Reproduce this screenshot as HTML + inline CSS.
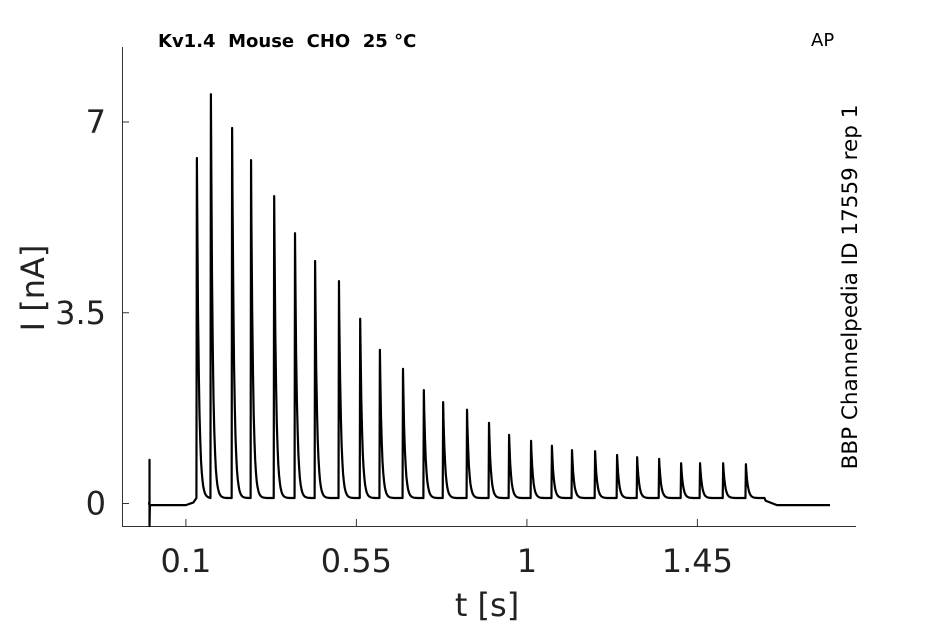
<!DOCTYPE html>
<html><head><meta charset="utf-8"><style>
body{margin:0;background:#fff;}
svg{display:block;font-family:"DejaVu Sans","Liberation Sans",sans-serif;}
text{white-space:pre;}
</style></head><body>
<svg width="945" height="624" viewBox="0 0 945 624">
<g id="axes">
<line x1="122.5" y1="47" x2="122.5" y2="526" stroke="#333" stroke-width="1"/>
<line x1="122" y1="526.5" x2="856" y2="526.5" stroke="#333" stroke-width="1"/>
</g>
<g id="ticks"></g>
<path id="trace" fill="none" stroke="#000" stroke-width="2.2" stroke-linejoin="round"/>
<text x="158" y="47" font-size="18" font-weight="bold" xml:space="preserve">Kv1.4  Mouse  CHO  25 °C</text>
<text x="811" y="46" font-size="18">AP</text>
<text transform="translate(857,287) rotate(-90)" text-anchor="middle" font-size="21.5">BBP Channelpedia ID 17559 rep 1</text>
<text transform="translate(44,288) rotate(-90)" text-anchor="middle" font-size="32" fill="#222">I [nA]</text>
<text x="487" y="616" text-anchor="middle" font-size="32" fill="#222">t [s]</text>
</svg>
<script>
const xTicks=[0.1,0.55,1,1.45];
const xTickLabels=["0.1","0.55","1","1.45"];
const yTicks=[0,3.5,7];
const yTickLabels=["0","3.5","7"];
const spikeTimes=[0.129,0.166,0.222,0.272,0.333,0.388,0.441,0.504,0.560,0.612,0.673,0.728,0.779,0.842,0.900,0.953,1.011,1.066,1.119,1.180,1.238,1.291,1.349,1.407,1.457,1.518,1.578];
const spikePeaks=[6.34,7.51,6.89,6.30,5.64,4.96,4.45,4.08,3.39,2.82,2.47,2.08,1.86,1.72,1.48,1.26,1.15,1.06,0.98,0.96,0.89,0.85,0.82,0.74,0.74,0.74,0.72];
const xs=t=>148+t*378.9;
const ys=v=>503.5-v*54.5;
const NS="http://www.w3.org/2000/svg";
const tg=document.getElementById('ticks');
xTicks.forEach((t,i)=>{
 const l=document.createElementNS(NS,'line');
 
 
 l.setAttribute('x1',xs(t));l.setAttribute('x2',xs(t));l.setAttribute('y1',526);l.setAttribute('y2',519);l.setAttribute('stroke','#333');
 tg.appendChild(l);
 const tx=document.createElementNS(NS,'text');
 
 
 tx.setAttribute('x',xs(t));tx.setAttribute('y',572);tx.setAttribute('text-anchor','middle');tx.setAttribute('font-size','32');tx.setAttribute('fill','#222');
 tx.textContent=xTickLabels[i];tg.appendChild(tx);
});
yTicks.forEach((v,i)=>{
 const l=document.createElementNS(NS,'line');
 
 
 l.setAttribute('x1',122);l.setAttribute('x2',129);l.setAttribute('y1',ys(v));l.setAttribute('y2',ys(v));l.setAttribute('stroke','#333');
 tg.appendChild(l);
 const tx=document.createElementNS(NS,'text');
 
 
 tx.setAttribute('x',106);tx.setAttribute('y',ys(v)+11);tx.setAttribute('text-anchor','end');tx.setAttribute('font-size','32');tx.setAttribute('fill','#222');
 tx.textContent=yTickLabels[i];tg.appendChild(tx);
});
let d=`M${xs(0)} ${ys(0)}`;
d+=` L${xs(0.004)} ${ys(0)} L${xs(0.004)} ${ys(0.8)} L${xs(0.004)} 526 L${xs(0.005)} ${ys(-0.03)}`;
d+=` L${xs(0.1)} ${ys(-0.03)} L${xs(0.12)} ${ys(0.02)}`;
const base=0.1;
spikeTimes.forEach((t,i)=>{
 const p=spikePeaks[i];
 const end=i<spikeTimes.length-1?spikeTimes[i+1]-0.0015:t+0.05;
 d+=` L${xs(t-0.0012)} ${ys(base)} L${xs(t)} ${ys(p)}`;
 for(let tt=t+0.001;tt<end;tt+=0.002){
  const v=base+(p-base)*Math.exp(-(tt-t)/0.005);
  d+=` L${xs(tt).toFixed(1)} ${ys(v).toFixed(1)}`;
 }
});
d+=` L${xs(1.63)} ${ys(0.05)} L${xs(1.66)} ${ys(-0.03)} L${xs(1.8)} ${ys(-0.03)}`;
document.getElementById('trace').setAttribute('d',d);
</script>
</body></html>
